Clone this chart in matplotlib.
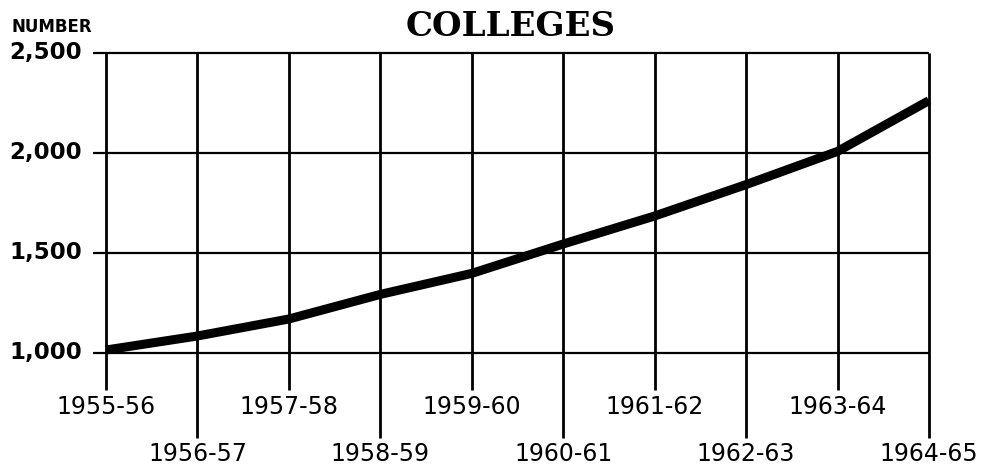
import matplotlib
matplotlib.use('Agg')
import matplotlib.pyplot as plt

# 数据
years = ['1955-56', '1956-57', '1957-58', '1958-59', '1959-60',
         '1960-61', '1961-62', '1962-63', '1963-64', '1964-65']
colleges = [1015, 1085, 1170, 1293, 1398, 1545, 1685, 1842, 2008, 2262]
yticks = [1000, 1500, 2000, 2500]
ytick_labels = ['1,000', '1,500', '2,000', '2,500']


def main():
    fig = plt.figure(figsize=(9.85, 4.68), dpi=100)
    ax = fig.add_axes([0, 0, 1, 1])
    ax.set_xlim(-1.159, 9.613)
    ax.set_ylim(425, 2765)
    ax.axis('off')

    x = list(range(len(years)))
    last = x[-1]

    # 横线
    for v in yticks:
        ax.hlines(v, -0.14, last, color='black', lw=1.6)
    # 竖线，奇偶交错长短
    for i in x:
        bottom = 575 if i % 2 else 815
        ax.vlines(i, bottom, yticks[-1], color='black', lw=2.0)

    # 折线
    ax.plot(x, colleges, color='black', lw=6.5, solid_capstyle='butt',
            solid_joinstyle='round', zorder=3)

    # 刻度标签
    for i, lab in zip(x, years):
        y = 495 if i % 2 else 730
        ax.text(i, y, lab, ha='center', va='center', fontsize=17,
                family='DejaVu Sans')
    for v, lab in zip(yticks, ytick_labels):
        ax.text(-0.26, v, lab, ha='right', va='center', fontsize=16.5,
                family='DejaVu Sans', fontweight='bold')

    ax.text(-1.03, 2630, 'NUMBER', ha='left', va='center', fontsize=12,
            fontweight='bold', family='DejaVu Sans')
    ax.text(4.42, 2630, 'COLLEGES', ha='center', va='center', fontsize=24.5,
            fontweight='bold', family='DejaVu Serif')

    plt.savefig('out.png', dpi=100)


if __name__ == '__main__':
    main()
